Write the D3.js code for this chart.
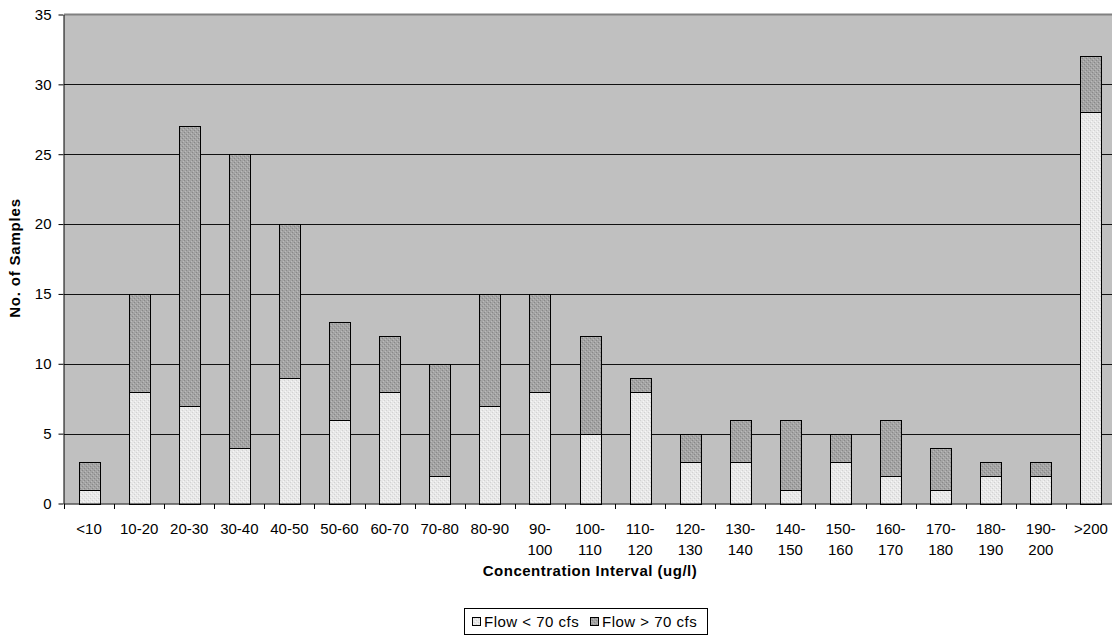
<!DOCTYPE html>
<html><head><meta charset="utf-8">
<script src="https://cdn.jsdelivr.net/npm/d3@7"></script>
<style>body{margin:0;background:#fff;}svg{display:block;font-family:"Liberation Sans",Arial,sans-serif;}</style>
</head><body><svg id="c" width="1112" height="635"></svg>
<script>
const categories = ["<10","10-20","20-30","30-40","40-50","50-60","60-70","70-80","80-90","90-100","100-110","110-120","120-130","130-140","140-150","150-160","160-170","170-180","180-190","190-200",">200"];
const lowFlow  = [1,8,7,4,9,6,8,2,7,8,5,8,3,3,1,3,2,1,2,2,28];
const highFlow = [2,7,20,21,11,7,4,8,8,7,7,1,2,3,5,2,4,3,1,1,4];
const yTicks = [0,5,10,15,20,25,30,35];
const seriesNames = ["Flow < 70 cfs","Flow > 70 cfs"];
const colors = ["#e8e8e8","#a4a4a4"];
const dotColors = [["#d2d2d2","#f6f6f6"],["#888888","#bababa"]];

const svg = d3.select("#c");
const defs = svg.append("defs");
colors.forEach((c,k)=>{
  const p = defs.append("pattern").attr("id","pat"+k).attr("width",4).attr("height",4).attr("patternUnits","userSpaceOnUse");
  p.append("rect").attr("width",4).attr("height",4).attr("fill",c);
  p.append("rect").attr("x",0).attr("y",0).attr("width",1).attr("height",1).attr("fill",dotColors[k][0]);
  p.append("rect").attr("x",2).attr("y",2).attr("width",1).attr("height",1).attr("fill",dotColors[k][0]);
  p.append("rect").attr("x",1).attr("y",3).attr("width",1).attr("height",1).attr("fill",dotColors[k][1]);
  p.append("rect").attr("x",3).attr("y",1).attr("width",1).attr("height",1).attr("fill",dotColors[k][1]);
});

const L=64, R=1116, T=14.5, B=503.5;
const x = d3.scaleBand().domain(categories).range([L,R]).paddingInner(0).paddingOuter(0);
const y = d3.scaleLinear().domain([0,35]).range([B,T]);

svg.append("rect").attr("x",L).attr("y",T).attr("width",R-L).attr("height",B-T).attr("fill","#c0c0c0");
svg.selectAll(".g").data(yTicks.filter(d=>d>0&&d<35)).enter().append("line")
  .attr("x1",L).attr("x2",R).attr("y1",d=>Math.round(y(d))+0.5).attr("y2",d=>Math.round(y(d))+0.5)
  .attr("stroke","#111").attr("stroke-width",1);
svg.append("line").attr("x1",L).attr("x2",R).attr("y1",T).attr("y2",T).attr("stroke","#808080").attr("stroke-width",2);

const stack = d3.stack().keys([0,1]).value((d,k)=>d[k])(categories.map((c,i)=>[lowFlow[i],highFlow[i]]));
const bw = 21;
stack.forEach((s,k)=>{
  svg.selectAll(".b"+k).data(s).enter().append("rect")
    .attr("x",(d,i)=>Math.round(x(categories[i])+x.bandwidth()/2-bw/2)+0.5)
    .attr("y",d=>Math.round(y(d[1]))+0.5)
    .attr("width",bw)
    .attr("height",d=>Math.round(y(d[0]))-Math.round(y(d[1])))
    .attr("fill","url(#pat"+k+")").attr("stroke","#000").attr("stroke-width",1);
});

const yAxis = svg.append("g").attr("transform",`translate(${L-0.5},0)`)
  .call(d3.axisLeft(y).tickValues(yTicks).tickSize(5).tickSizeOuter(0).tickPadding(7));
yAxis.select(".domain").attr("stroke","#000");
yAxis.selectAll("text").attr("font-size",15).attr("fill","#000");

const xg = svg.append("g").attr("transform",`translate(0,${Math.round(B)})`);
xg.append("line").attr("x1",L).attr("x2",R).attr("y1",0).attr("y2",0).attr("stroke","#000");
xg.selectAll(".t").data(categories).enter().append("line")
  .attr("x1",d=>Math.round(x(d))+0.5).attr("x2",d=>Math.round(x(d))+0.5).attr("y1",0).attr("y2",5).attr("stroke","#000");
categories.forEach(c=>{
  const cx = x(c)+x.bandwidth()/2;
  const m = c.match(/^(\d+)-(\d+)$/);
  const t = xg.append("text").attr("x",cx).attr("text-anchor","middle").attr("font-size",15).attr("fill","#000");
  if (m && +m[1]>=90) {
    t.append("tspan").attr("x",cx).attr("y",30).text(m[1]+"-");
    t.append("tspan").attr("x",cx).attr("y",51).text(m[2]);
  } else {
    t.attr("y",30).text(c);
  }
});

svg.append("text").attr("transform",`translate(20,258) rotate(-90)`).attr("text-anchor","middle")
  .attr("font-size",15).attr("font-weight","bold").attr("letter-spacing",0.8).text("No. of Samples");
svg.append("text").attr("x",590).attr("y",576).attr("text-anchor","middle")
  .attr("font-size",15).attr("font-weight","bold").attr("letter-spacing",0.5).text("Concentration Interval (ug/l)");

const lg = svg.append("g");
lg.append("rect").attr("x",464.5).attr("y",608.5).attr("width",243).attr("height",26).attr("fill","#fff").attr("stroke","#000");
const lx=[472,590];
seriesNames.forEach((n,i)=>{
  lg.append("rect").attr("x",lx[i]+0.5).attr("y",617.5).attr("width",8).attr("height",8).attr("fill","url(#pat"+i+")").attr("stroke","#000");
  lg.append("text").attr("x",lx[i]+12).attr("y",627).attr("font-size",15).attr("letter-spacing",0.5).text(n);
});
</script></body></html>
